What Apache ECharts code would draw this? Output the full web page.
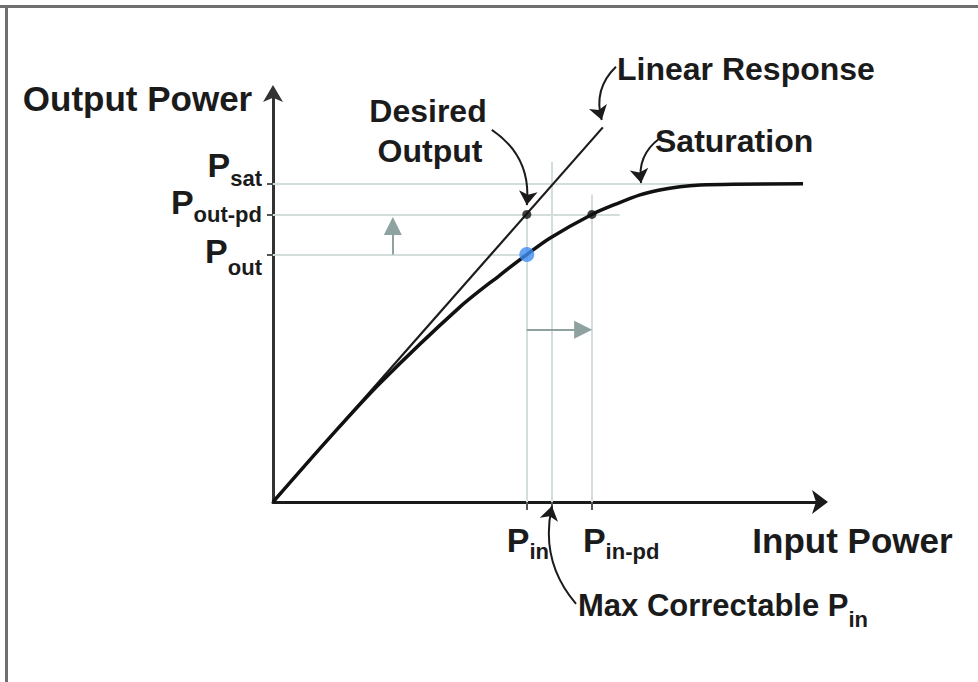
<!DOCTYPE html>
<html>
<head>
<meta charset="utf-8">
<script src="https://cdn.jsdelivr.net/npm/echarts@6/dist/echarts.min.js"></script>
<style>
  html, body { margin: 0; padding: 0; background: #fff; }
  #chart { width: 978px; height: 682px; }
</style>
</head>
<body>
<div id="chart"></div>
<script>
// Operating levels on each axis (0-100 scale on both axes)
const inputLevels = [46.4, 51.0, 58.3];   // P_in, max correctable P_in, P_in-pd
const inputSubs = ['in', null, 'in-pd'];
const outputLevels = [77.8, 70.3, 60.5];  // P_sat, P_out-pd, P_out
const outputSubs = ['sat', 'out-pd', 'out'];

// Ideal linear response
const linearX = [0, 60.3];
const linearY = [0, 91.6];

// Amplifier transfer curve with saturation
const saturationX = [0, 10.4, 19.6, 34.2, 41.5, 46.4, 50.6, 58.3, 62.8, 67.1, 70.7, 74.4, 78.1, 84.1, 96.9];
const saturationY = [0, 15.8, 29.1, 47.7, 55.5, 60.5, 64.5, 70.3, 72.9, 75.1, 76.3, 77.1, 77.5, 77.7, 77.8];

const FONT = '"Liberation Sans", Arial, Helvetica, sans-serif';
const INK = '#1b1b1b';
const GUIDE = '#d2dddc';
const SHIFT = '#8ea29f';

const [pIn, pInMax, pInPd] = inputLevels;
const [pSat, pOutPd, pOut] = outputLevels;

const measureCtx = document.createElement('canvas').getContext('2d');
function textWidth(str, size) {
  measureCtx.font = 'bold ' + size + 'px ' + FONT;
  return measureCtx.measureText(str).width;
}

const chart = echarts.init(document.getElementById('chart'), null, { renderer: 'svg' });

const pairs = (xs, ys) => xs.map((x, i) => [x, ys[i]]);

// faint guide lines tying the operating points to the axes
const guideSegments = [
  [[0, pSat], [96.9, pSat]],
  [[0, pOutPd], [63.4, pOutPd]],
  [[0, pOut], [pIn, pOut]],
  [[pIn, 0], [pIn, pOutPd]],
  [[pInMax, 0], [pInMax, 83.1]],
  [[pInPd, 0], [pInPd, 75.1]]
];

// back-off shift arrows (end points sit at the centre of the triangle head)
const shiftArrows = [
  [[21.9, pOut], [21.9, 67.5]],
  [[pIn, 42.1], [56.7, 42.1]]
];

// curved call-out arrows
const callouts = [
  { coords: [[40.0, 91.0], [pIn, 72.6]], curveness: 0.3 },
  { coords: [[62.7, 106.4], [60.1, 93.4]], curveness: -0.3 },
  { coords: [[70.6, 88.8], [67.3, 78.0]], curveness: -0.3 },
  { coords: [[55.4, -24.9], [pInMax, -1.0]], curveness: 0.25 }
];

const option = {
  animation: false,
  backgroundColor: '#fff',
  grid: { left: 273, right: 158, top: 93, bottom: 180 },
  xAxis: {
    type: 'value', min: 0, max: 100,
    axisLine: { show: true, onZero: false, symbol: ['none', 'arrow'], symbolSize: [18, 16], symbolOffset: [0, 8],
      lineStyle: { color: INK, width: 3 } },
    axisTick: { show: true, customValues: inputLevels, length: 8, lineStyle: { color: '#555', width: 2 } },
    axisLabel: { show: false },
    splitLine: { show: false }
  },
  yAxis: {
    type: 'value', min: 0, max: 100,
    axisLine: { show: true, onZero: false, symbol: ['none', 'arrow'], symbolSize: [15, 17], symbolOffset: [0, 8],
      lineStyle: { color: '#333', width: 3 } },
    axisTick: { show: true, customValues: outputLevels, length: 6, lineStyle: { color: '#555', width: 2 } },
    axisLabel: { show: false },
    splitLine: { show: false }
  },
  series: [
    {
      type: 'lines', coordinateSystem: 'cartesian2d', silent: true, clip: false, z: 1,
      symbol: 'none',
      lineStyle: { color: GUIDE, width: 2, opacity: 1 },
      data: guideSegments.map(c => ({ coords: c }))
    },
    {
      type: 'lines', coordinateSystem: 'cartesian2d', silent: true, clip: false, z: 2,
      symbol: ['none', 'triangle'], symbolSize: 18,
      lineStyle: { color: SHIFT, width: 2, opacity: 1 },
      data: shiftArrows.map(c => ({ coords: c }))
    },
    {
      name: 'Linear Response', type: 'line', z: 3, clip: false,
      showSymbol: false, data: pairs(linearX, linearY),
      lineStyle: { color: INK, width: 2.2 }
    },
    {
      name: 'Saturation', type: 'line', z: 4, clip: false,
      showSymbol: false, smooth: 0.3, data: pairs(saturationX, saturationY),
      lineStyle: { color: '#111', width: 3.5 }
    },
    {
      type: 'lines', coordinateSystem: 'cartesian2d', silent: true, clip: false, z: 5,
      symbol: ['none', 'arrow'], symbolSize: 14,
      lineStyle: { color: INK, width: 2, opacity: 1 },
      data: callouts.map(c => ({ coords: c.coords, lineStyle: { curveness: c.curveness } }))
    },
    {
      type: 'scatter', z: 6, silent: true,
      symbolSize: 9, itemStyle: { color: '#111' },
      data: [[pIn, pOutPd], [pInPd, pOutPd]]
    },
    {
      type: 'scatter', z: 7, silent: true,
      symbolSize: 15, itemStyle: { color: '#3f8cf3' },
      data: [[pIn, pOut]]
    }
  ]
};

chart.setOption(option);

// ---- text layer ----
const toPx = (x, y) => chart.convertToPixel({ gridIndex: 0 }, [x, y]);
const origin = toPx(0, 0);
const P_SIZE = 34, SUB_SIZE = 22;

function txt(text, x, y, size, align) {
  return {
    type: 'text', x: x, y: y, z: 100, silent: true,
    style: {
      text: text, fill: INK, fontFamily: FONT, fontWeight: 'bold', fontSize: size,
      textAlign: align || 'left', textVerticalAlign: 'middle'
    }
  };
}

const texts = [];

// output levels: P with subscript, right-aligned against the y axis
const yLabelShift = [[-18.5, -5], [-12, 0.5], [-4, 12.5]];
outputLevels.forEach((v, i) => {
  const ty = toPx(0, v)[1];
  const sub = outputSubs[i];
  const wP = textWidth('P', P_SIZE), wS = textWidth(sub, SUB_SIZE);
  const right = origin[0] - 11;
  const left = right - wP - wS;
  texts.push(txt('P', left, ty + yLabelShift[i][0], P_SIZE));
  texts.push(txt(sub, left + wP, ty + yLabelShift[i][1], SUB_SIZE));
});

// input levels under the x axis
const xLabelShift = { 0: -20, 2: -9 };
inputLevels.forEach((v, i) => {
  const sub = inputSubs[i];
  if (!sub) return;
  const tx = toPx(v, 0)[0];
  const left = tx + xLabelShift[i];
  const wP = textWidth('P', P_SIZE);
  texts.push(txt('P', left, origin[1] + 38, P_SIZE));
  texts.push(txt(sub, left + wP, origin[1] + 49, SUB_SIZE));
});

// axis titles
texts.push(txt('Output Power', 137.5, 98, 35, 'center'));
texts.push(txt('Input Power', 852.5, 540, 35, 'center'));

// call-out captions
texts.push(txt('Linear Response', 617, 69, 32));
texts.push(txt('Saturation', 655, 141, 32));
texts.push(txt('Desired', 428, 111, 32, 'center'));
texts.push(txt('Output', 430, 151, 32, 'center'));
const maxText = 'Max Correctable P';
texts.push(txt(maxText, 578, 605, 31));
texts.push(txt('in', 578 + textWidth(maxText, 31), 619, SUB_SIZE));

// frame edges
const frame = [
  { type: 'line', z: 100, silent: true, shape: { x1: 0, y1: 6.5, x2: 978, y2: 6.5 }, style: { stroke: '#6f6f6f', lineWidth: 3 } },
  { type: 'line', z: 100, silent: true, shape: { x1: 6.5, y1: 5, x2: 6.5, y2: 682 }, style: { stroke: '#6f6f6f', lineWidth: 3 } }
];

chart.setOption({ graphic: { elements: texts.concat(frame) } });
</script>
</body>
</html>
